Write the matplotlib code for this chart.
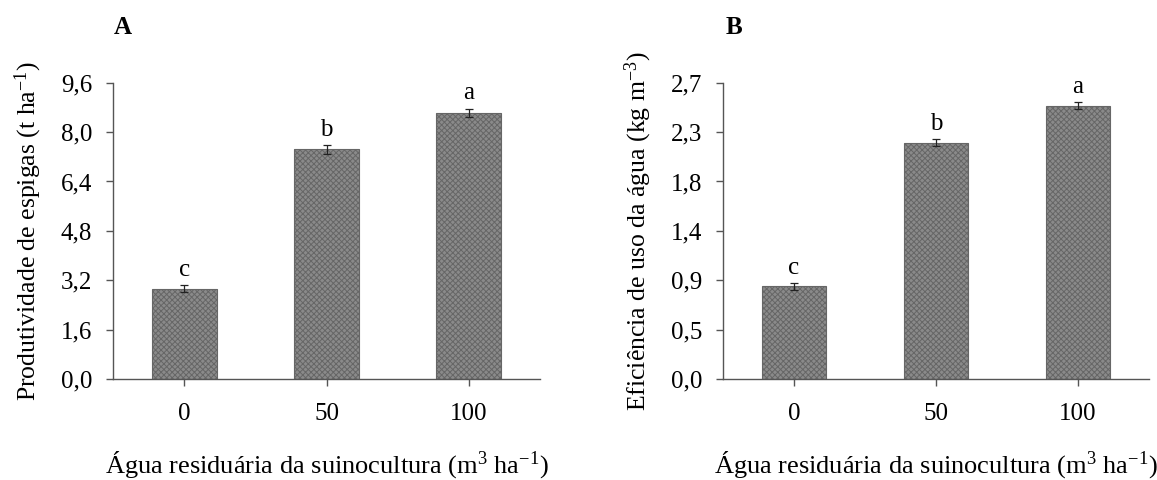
import numpy as np
import matplotlib
matplotlib.use('Agg')
import matplotlib.pyplot as plt

# ***************************
# Data
# ***************************
doses = ['0', '50', '100']

prod_values = [2.93, 7.44, 8.63]
prod_errors = [0.10, 0.15, 0.13]
prod_letters = ['c', 'b', 'a']
prod_ticks = [0.0, 1.6, 3.2, 4.8, 6.4, 8.0, 9.6]
prod_ticklabels = ['0,0', '1,6', '3,2', '4,8', '6,4', '8,0', '9,6']

eff_values = [0.845, 2.155, 2.49]
eff_errors = [0.03, 0.035, 0.03]
eff_letters = ['c', 'b', 'a']
eff_ticks = [0.0, 0.45, 0.9, 1.35, 1.8, 2.25, 2.7]
eff_ticklabels = ['0,0', '0,5', '0,9', '1,4', '1,8', '2,3', '2,7']

xlabel = r'Água residuária da suinocultura (m$^{3}$ ha$^{-1}$)'
ylabel_a = r'Produtividade de espigas (t ha$^{-1}$)'
ylabel_b = r'Eficiência de uso da água (kg m$^{-3}$)'

# ***************************
# Style
# ***************************
plt.rcParams['font.family'] = ['Liberation Serif', 'DejaVu Serif']
plt.rcParams['mathtext.fontset'] = 'custom'
plt.rcParams['mathtext.rm'] = 'Liberation Serif'
plt.rcParams['mathtext.it'] = 'Liberation Serif:italic'
plt.rcParams['hatch.color'] = '#111111'
plt.rcParams['hatch.linewidth'] = 0.7

axis_color = '#555555'
fs_tick = 18
fs_xlab = 19
fs_ylab = 18.5
fs_letter = 18


def draw_panel(ax, values, errors, letters, ticks, ticklabels, ylabel):
    x = np.arange(len(doses))
    ax.bar(x, values, width=0.457, color='#8a8a8a', edgecolor='#666666',
           linewidth=0.8, hatch='xxxxxx', zorder=2)
    ax.errorbar(x, values, yerr=errors, fmt='none', ecolor='#222222',
                elinewidth=0.9, capsize=3, capthick=0.9, zorder=3)
    for xi, v, e, lab in zip(x, values, errors, letters):
        ax.annotate(lab, (xi, v + e), xytext=(0, 3), textcoords='offset points',
                    ha='center', va='bottom', fontsize=fs_letter)

    ax.set_xlim(-0.5, 2.5)
    ax.set_ylim(ticks[0], ticks[-1])
    ax.set_xticks(x)
    ax.set_xticklabels(doses, fontsize=fs_tick)
    ax.set_yticks(ticks)
    ax.set_yticklabels(ticklabels, fontsize=fs_tick)

    for side in ['top', 'right']:
        ax.spines[side].set_visible(False)
    for side in ['left', 'bottom']:
        ax.spines[side].set_color(axis_color)
        ax.spines[side].set_linewidth(1.0)
    ax.tick_params(direction='out', length=5, width=1.0, color=axis_color)
    ax.tick_params(axis='x', pad=12)
    ax.tick_params(axis='y', pad=10)

    ax.set_xlabel(xlabel, fontsize=fs_xlab, labelpad=18)
    ax.set_ylabel(ylabel, fontsize=fs_ylab, labelpad=12)


fig = plt.figure(figsize=(11.57, 4.8), dpi=100)
ax_a = fig.add_axes([0.0977, 0.2104, 0.3690, 0.6173])
ax_b = fig.add_axes([0.6249, 0.2104, 0.3682, 0.6173])

draw_panel(ax_a, prod_values, prod_errors, prod_letters,
           prod_ticks, prod_ticklabels, ylabel_a)
draw_panel(ax_b, eff_values, eff_errors, eff_letters,
           eff_ticks, eff_ticklabels, ylabel_b)

fig.text(0.0985, 0.943, 'A', fontsize=18, fontweight='bold', ha='left', va='center')
fig.text(0.6275, 0.943, 'B', fontsize=18, fontweight='bold', ha='left', va='center')

fig.savefig('out.png', dpi=100, facecolor='white')
